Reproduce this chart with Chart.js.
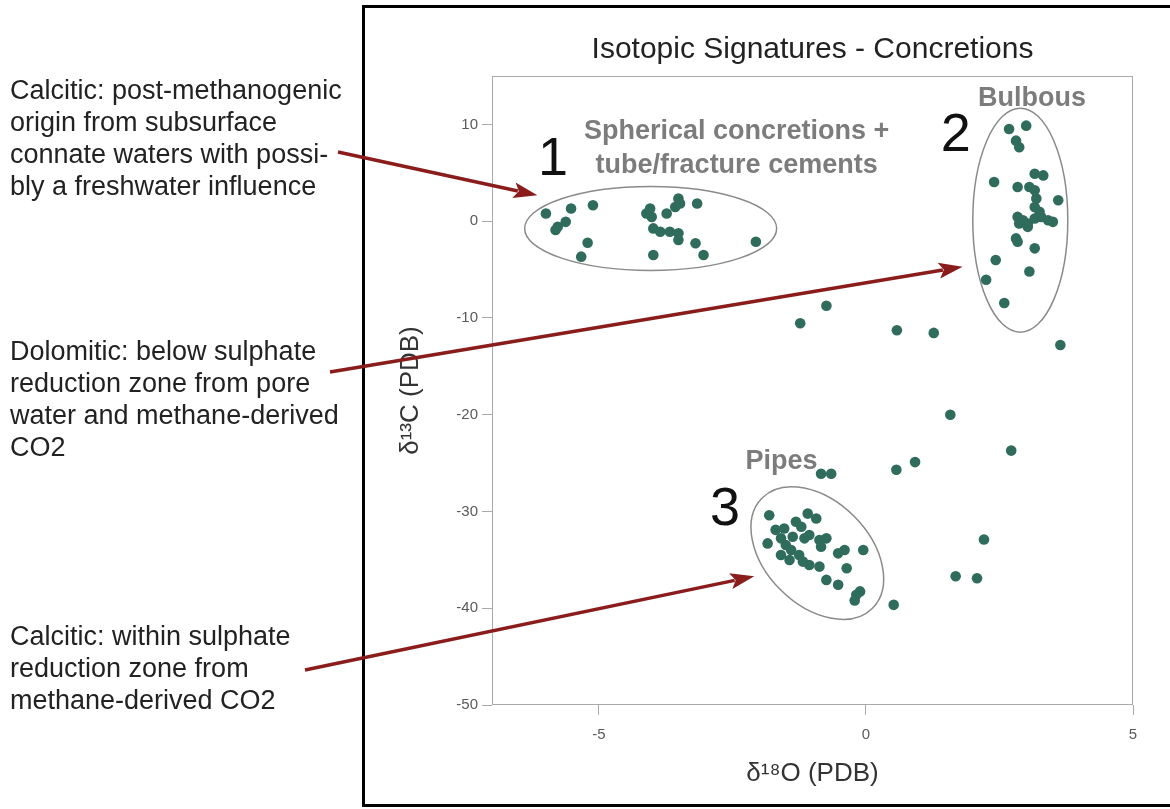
<!DOCTYPE html>
<html>
<head>
  <meta charset="UTF-8">
  <title>Isotopic Signatures - Concretions</title>
  <script src="https://cdn.jsdelivr.net/npm/chart.js@4.4.0/dist/chart.umd.min.js"></script>
  <style>
    body { margin: 0; background: #fff; }
    #chartCanvas { display: block; }
  </style>
</head>
<body>
<canvas id="chartCanvas" width="1170" height="809"></canvas>
<script>
  // delta 18O (x) and delta 13C (y), one pair of arrays per group
  var sphericalO = [-5.99, -5.77, -5.81, -5.62, -5.52, -5.11, -5.21, -5.33, -4.11, -4.04, -4.01, -3.73, -3.51,
                    -3.48, -3.57, -3.16, -3.98, -3.85, -3.67, -3.51, -3.51, -3.19, -3.04, -3.98, -2.06];
  var sphericalC = [0.79, -0.58, -0.92, -0.07, 1.30, 1.64, -2.23, -3.67, 0.79, 1.30, 0.44, 0.79, 2.33,
                    1.82, 1.47, 1.82, -0.75, -1.10, -1.10, -1.26, -1.95, -2.29, -3.49, -3.49, -2.13];

  var bulbousO = [2.68, 3.00, 2.81, 2.87, 2.40, 3.16, 3.32, 2.84, 3.06, 3.16, 3.19, 3.60, 3.16, 3.25, 2.84,
                  2.94, 3.03, 2.87, 3.28, 3.41, 3.50, 3.16, 3.03, 2.81, 2.84, 3.16, 2.43, 3.06, 2.25, 2.59];
  var bulbousC = [9.53, 9.87, 8.32, 7.64, 4.04, 4.90, 4.73, 3.53, 3.53, 3.19, 2.33, 2.16, 1.47, 0.96, 0.44,
                  0.10, -0.24, -0.24, 0.44, 0.10, -0.07, 0.28, -0.59, -1.78, -2.13, -2.81, -4.01, -5.21, -6.06, -8.46];

  var pipesO = [-1.81, -1.09, -0.93, -1.69, -1.53, -1.31, -1.21, -1.59, -1.84, -1.06, -0.87, -0.74, -0.84, -1.50,
                -1.40, -1.59, -1.43, -1.25, -1.18, -1.06, -0.87, -0.52, -0.40, -0.05, -0.36, -0.74, -0.52, -0.18,
                -0.11, -0.21, -1.37, -1.15];
  var pipesC = [-30.39, -30.22, -30.73, -31.90, -31.76, -31.07, -31.58, -32.78, -33.30, -32.44, -32.96, -32.78,
                -33.64, -33.47, -33.99, -34.50, -35.02, -34.50, -35.18, -35.53, -35.70, -34.33, -33.99, -33.99,
                -35.87, -37.07, -37.58, -38.61, -38.26, -39.20, -32.61, -32.78];

  var otherO = [-0.74, -1.23, 0.58, 1.27, 3.64, 1.58, 2.72, 0.92, 0.57, -0.84, -0.65, 0.52, 1.68, 2.08, 2.21];
  var otherC = [-8.74, -10.55, -11.27, -11.55, -12.8, -20.01, -23.71, -24.9, -25.69, -26.1, -26.1, -39.65,
                -36.7, -36.9, -32.9];

  var xTicks = [-5, 0, 5];
  var yTicks = [-50, -40, -30, -20, -10, 0, 10];

  var groupLabels = ["Spherical concretions +", "tube/fracture cements", "Bulbous", "Pipes"];
  var groupNumbers = ["1", "2", "3"];

  var notes = [
    ["Calcitic: post-methanogenic", "origin from subsurface", "connate waters with possi-", "bly a freshwater influence"],
    ["Dolomitic: below sulphate", "reduction zone from pore", "water and methane-derived", "CO2"],
    ["Calcitic: within sulphate", "reduction zone from", "methane-derived CO2"]
  ];

  var DOT = "#2f6c5c";

  function pairs(xs, ys) {
    var out = [];
    for (var i = 0; i < xs.length; i++) out.push({ x: xs[i], y: ys[i] });
    return out;
  }

  // ellipses, numbers, group names, side notes and arrows drawn on top of the plot
  var overlay = {
    id: "overlay",
    beforeDraw: function(chart) {
      var ctx = chart.ctx;
      ctx.save();
      ctx.fillStyle = "#fff";
      ctx.fillRect(0, 0, chart.width, chart.height);
      ctx.restore();
    },
    beforeDatasetsDraw: function(chart) {
      var ctx = chart.ctx, a = chart.chartArea;
      ctx.save();
      ctx.strokeStyle = "#aaa";
      ctx.lineWidth = 1;
      ctx.strokeRect(a.left + 0.5, a.top + 0.5, a.right - a.left - 1, a.bottom - a.top - 1);
      ctx.restore();
    },
    afterDraw: function(chart) {
      var ctx = chart.ctx, xs = chart.scales.x, ys = chart.scales.y;
      function px(v) { return xs.getPixelForValue(v); }
      function py(v) { return ys.getPixelForValue(v); }

      ctx.save();

      // outer black frame
      ctx.strokeStyle = "#000";
      ctx.lineWidth = 3;
      ctx.beginPath();
      ctx.moveTo(1172, 6.5); ctx.lineTo(363.5, 6.5); ctx.lineTo(363.5, 805.5); ctx.lineTo(1172, 805.5);
      ctx.stroke();

      // ellipses around groups
      ctx.strokeStyle = "#8a8a8a";
      ctx.lineWidth = 1.5;
      [[-4.03, -0.75, 126, 42, 0], [2.89, 0.10, 47.5, 112, 0], [-0.91, -34.3, 78, 52, 45]].forEach(function(e) {
        ctx.beginPath();
        ctx.ellipse(px(e[0]), py(e[1]), e[2], e[3], e[4] * Math.PI / 180, 0, 2 * Math.PI);
        ctx.stroke();
      });

      // group names
      ctx.fillStyle = "#7c7c7c";
      ctx.font = "bold 27px 'Liberation Sans', Arial, sans-serif";
      ctx.textAlign = "center";
      ctx.textBaseline = "middle";
      ctx.fillText(groupLabels[0], px(-2.42), py(9.25));
      ctx.fillText(groupLabels[1], px(-2.42), py(5.76));
      ctx.fillText(groupLabels[2], px(3.11), py(12.64));
      ctx.fillText(groupLabels[3], px(-1.58), py(-24.87));

      // big numbers
      ctx.fillStyle = "#111";
      ctx.font = "54px 'Liberation Sans', Arial, sans-serif";
      ctx.fillText(groupNumbers[0], px(-5.86), py(6.27));
      ctx.fillText(groupNumbers[1], px(1.68), py(8.84));
      ctx.fillText(groupNumbers[2], px(-2.64), py(-29.9));

      // side notes
      ctx.fillStyle = "#222";
      ctx.font = "27px 'Liberation Sans', Arial, sans-serif";
      ctx.textAlign = "left";
      var tops = [92, 353, 638];
      notes.forEach(function(lines, k) {
        lines.forEach(function(t, i) { ctx.fillText(t, 10, tops[k] + i * 31.7); });
      });

      // arrows: start in page pixels, tip in data units
      ctx.strokeStyle = "#8b1c1c";
      ctx.fillStyle = "#8b1c1c";
      ctx.lineWidth = 3.5;
      [[338, 152, -6.15, 2.67], [330, 372, 1.81, -4.70], [305, 670, -2.09, -36.7]].forEach(function(r) {
        var x0 = r[0], y0 = r[1], x1 = px(r[2]), y1 = py(r[3]);
        var ang = Math.atan2(y1 - y0, x1 - x0), L = 24, W = 8;
        var bx = x1 - L * Math.cos(ang), by = y1 - L * Math.sin(ang);
        ctx.beginPath();
        ctx.moveTo(x0, y0); ctx.lineTo(bx + 4 * Math.cos(ang), by + 4 * Math.sin(ang));
        ctx.stroke();
        ctx.beginPath();
        ctx.moveTo(x1, y1);
        ctx.lineTo(bx - W * Math.sin(ang), by + W * Math.cos(ang));
        ctx.lineTo(bx + 5 * Math.cos(ang), by + 5 * Math.sin(ang));
        ctx.lineTo(bx + W * Math.sin(ang), by - W * Math.cos(ang));
        ctx.closePath();
        ctx.fill();
      });

      ctx.restore();
    }
  };

  var tickGrid = { display: true, drawOnChartArea: false, drawTicks: true, tickLength: 10, color: "#aaa" };

  new Chart(document.getElementById("chartCanvas"), {
    type: "scatter",
    data: {
      datasets: [
        { label: "Spherical", data: pairs(sphericalO, sphericalC) },
        { label: "Bulbous", data: pairs(bulbousO, bulbousC) },
        { label: "Pipes", data: pairs(pipesO, pipesC) },
        { label: "Other", data: pairs(otherO, otherC) }
      ].map(function(d) {
        d.backgroundColor = DOT; d.borderWidth = 0; d.pointRadius = 5.3; d.pointHoverRadius = 5.3;
        return d;
      })
    },
    options: {
      responsive: false,
      animation: false,
      devicePixelRatio: 1,
      layout: { padding: { left: 390, right: 37, top: 32, bottom: 20 } },
      plugins: {
        legend: { display: false },
        tooltip: { enabled: false },
        title: {
          display: true,
          fullSize: false,
          text: "Isotopic Signatures - Concretions",
          color: "#222",
          font: { family: "'Liberation Sans', Arial, sans-serif", size: 30, weight: "normal", lineHeight: 1.2 },
          padding: { top: 0, bottom: 8 }
        }
      },
      scales: {
        x: {
          type: "linear",
          min: -7, max: 5,
          grid: tickGrid,
          border: { display: false },
          afterBuildTicks: function(s) { s.ticks = xTicks.map(function(v) { return { value: v }; }); },
          afterFit: function(s) { s.height = 84; },
          ticks: { color: "#5a5a5a", padding: 11, font: { family: "'Liberation Sans', Arial, sans-serif", size: 15 } },
          title: {
            display: true, text: "δ¹⁸O (PDB)", color: "#333",
            padding: { top: 0, bottom: 0 },
            font: { family: "'Liberation Sans', Arial, sans-serif", size: 26, lineHeight: 1.2 }
          }
        },
        y: {
          type: "linear",
          min: -50, max: 15,
          grid: tickGrid,
          border: { display: false },
          afterBuildTicks: function(s) { s.ticks = yTicks.map(function(v) { return { value: v }; }); },
          afterFit: function(s) { s.width = 102; },
          ticks: { color: "#5a5a5a", padding: 4, font: { family: "'Liberation Sans', Arial, sans-serif", size: 15 } },
          title: {
            display: true, text: "δ¹³C (PDB)", color: "#333",
            padding: { top: 5, bottom: 0 },
            font: { family: "'Liberation Sans', Arial, sans-serif", size: 26, lineHeight: 1.2 }
          }
        }
      }
    },
    plugins: [overlay]
  });
</script>
</body>
</html>
